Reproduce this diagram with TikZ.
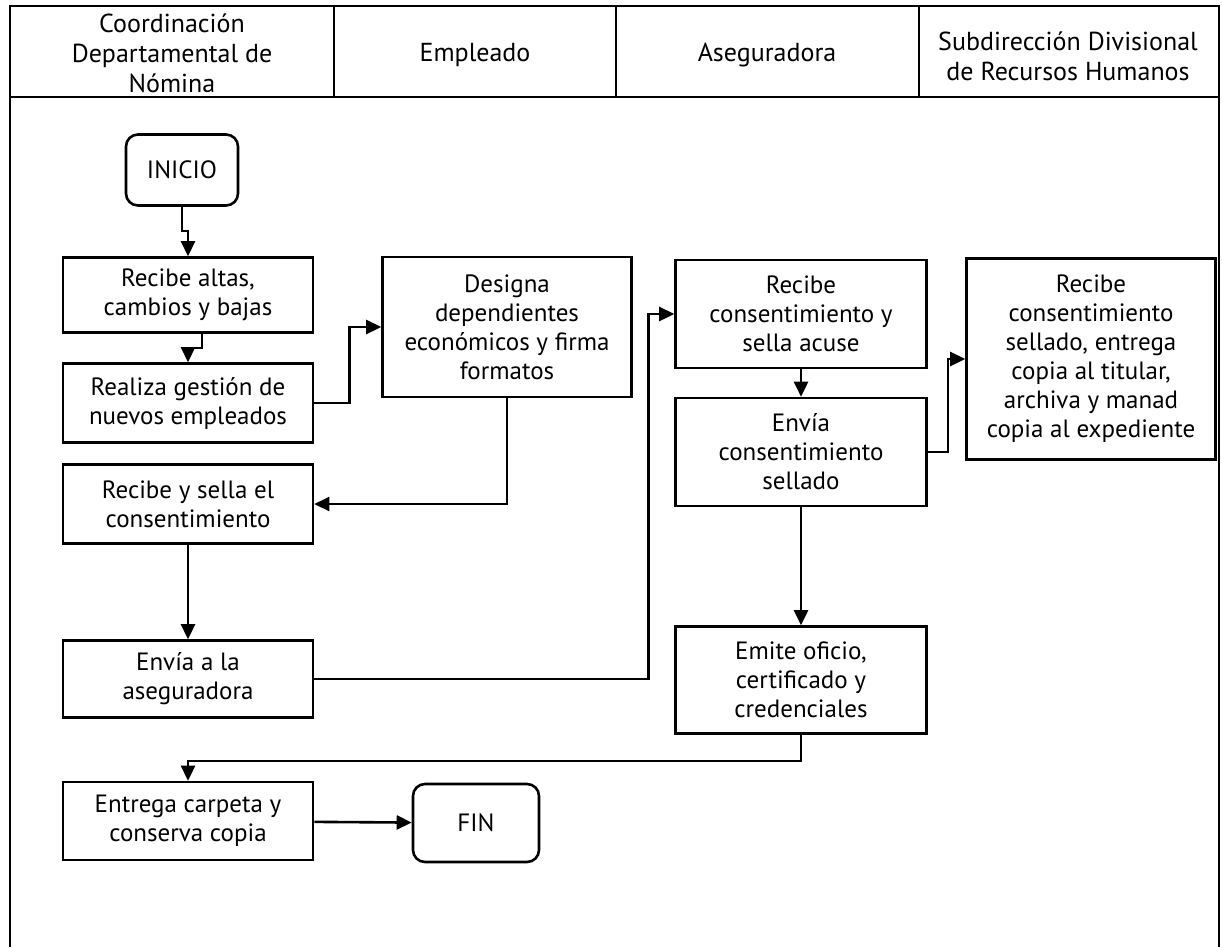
\documentclass[tikz,border=0pt]{standalone}
\usepackage{fontspec}
\setmainfont{PT Sans}
\usepackage{tikz}
\usetikzlibrary{arrows.meta, positioning, calc}

\begin{document}
\begin{tikzpicture}[
    x=1pt, y=-1pt,
    line width=2.6pt,
    font=\fontsize{25}{29}\selectfont,
    lane/.style={align=center, font=\fontsize{26}{30}\selectfont},
    term/.style={draw, rounded corners=12pt, minimum width=112pt, minimum height=71pt,
                 align=center, inner sep=0pt},
    proc/.style={draw, minimum width=250pt, minimum height=77pt, align=center, inner sep=1pt},
    arr/.style={-{Triangle[length=15pt, width=14pt]}}
]
\useasboundingbox (0,0) rectangle (1222,947);

% swimlane frame
\draw (10,947) -- (10,6) -- (1219,6) -- (1219,947);
\draw (10,97) -- (1219,97);
\draw (334,6) -- (334,97);
\draw (616,6) -- (616,97);
\draw (919,6) -- (919,97);
\node[lane] (l1) at (172,53) {Coordinación\\Departamental de\\Nómina};
\node[lane] (l2) at (475,55) {Empleado};
\node[lane] (l3) at (767,55) {Aseguradora};
\node[lane] (l4) at (1068,56) {Subdirección Divisional\\de Recursos Humanos};

% nodes
\node[term] (ini) at (182,170) {INICIO};
\node[proc, minimum height=75pt] (c1) at (188,295) {Recibe altas,\\cambios y bajas};
\node[proc, minimum height=79pt] (c2) at (188,403) {Realiza gestión de\\nuevos empleados};
\node[proc, minimum width=249pt, minimum height=140pt] (e1) at (507,327)
    {Designa\\dependientes\\económicos y firma\\formatos};
\node[proc, minimum height=79pt] (c3) at (188,504) {Recibe y sella el\\consentimiento};
\node[proc] (c4) at (188,679) {Envía a la\\aseguradora};
\node[proc, minimum width=251pt, minimum height=108pt] (a1) at (801,314) {Recibe\\consentimiento y\\sella acuse};
\node[proc, minimum width=251pt, minimum height=108pt] (a2) at (801,452) {Envía\\consentimiento\\sellado};
\node[proc, minimum width=251pt, minimum height=107pt] (a3) at (801,680) {Emite oficio,\\certificado y\\credenciales};
\node[proc, minimum width=249pt, minimum height=201pt] (s1) at (1091,359)
    {Recibe\\consentimiento\\sellado, entrega\\copia al titular,\\archiva y manad\\copia al expediente};
\node[proc, minimum height=78pt] (c5) at (188,821) {Entrega carpeta y\\conserva copia};
\node[term, minimum width=126pt, minimum height=78pt] (fin) at (476,823) {FIN};

% connectors
\draw[arr] (ini.south) -- ++(0,24) -| (c1.north);
\draw[arr] ([xshift=14pt]c1.south) -- ++(0,14) -| (c2.north);
\draw[arr] (c2.east) -- ++(35,0) |- (e1.west);
\draw[arr] (e1.south) |- (c3.east);
\draw[arr] (c3) -- (c4);
\draw[arr] (c4.east) -- ++(334,0) |- (a1.west);
\draw[arr] (a1) -- (a2);
\draw[arr] (a2.east) -- ++(20,0) |- (s1.west);
\draw[arr] (a2) -- (a3);
\draw[arr] (a3.south) -- ++(0,26) -| (c5.north);
\draw[arr] (c5) -- (fin);
\end{tikzpicture}
\end{document}
